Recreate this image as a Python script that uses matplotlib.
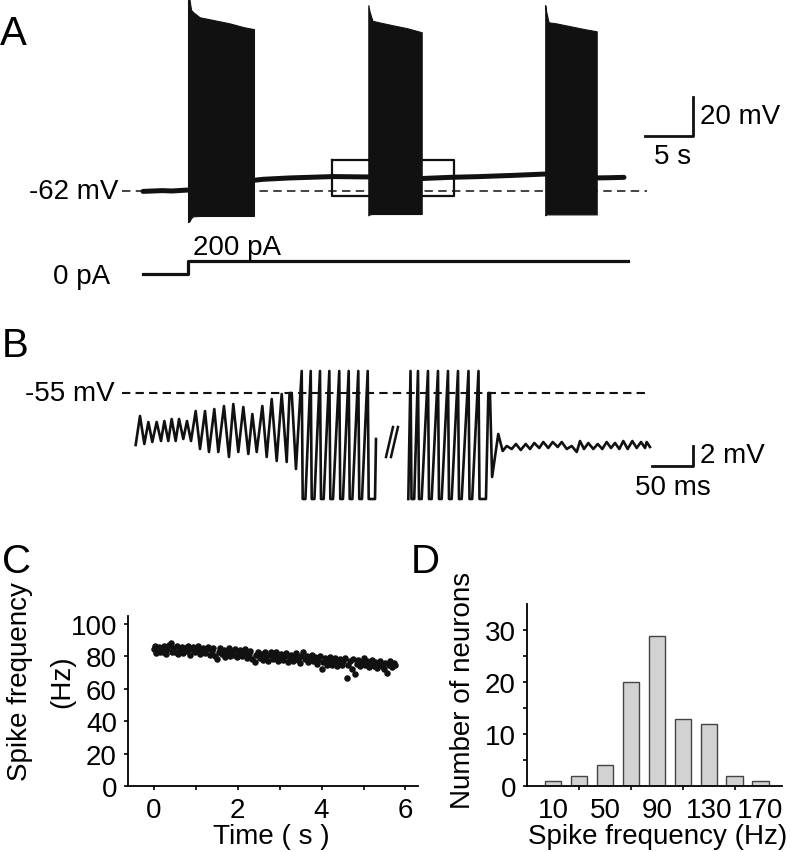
import matplotlib.pyplot as plt

plt.rcParams['font.family'] = ['Liberation Sans', 'DejaVu Sans']
plt.rcParams['font.size'] = 20

W, H = 790, 853
INK = '#111111'

# ---------------- panel A : whole-cell recording (s, mV) ----------------
burst1_t = [4.69, 4.85, 5.0, 5.2, 5.9, 7.5, 9.0, 10.5, 11.56]
burst1_top = [36.5, 36.0, 31.0, 29.8, 27.1, 25.5, 24.0, 22.0, 21.0]
burst1_bot = [-78.0, -77.5, -76.0, -75.0, -74.8, -74.8, -74.8, -74.8, -74.8]

burst2_t = [23.47, 23.6, 23.9, 24.5, 26.0, 27.5, 29.03]
burst2_top = [33.3, 30.0, 25.3, 24.6, 23.0, 21.5, 19.4]
burst2_bot = [-74.5, -74.0, -73.8, -73.8, -73.8, -73.8, -73.8]

burst3_t = [41.9, 42.0, 42.25, 43.0, 44.5, 46.0, 47.26]
burst3_top = [33.3, 30.0, 24.5, 24.0, 22.5, 21.0, 19.9]
burst3_bot = [-74.5, -74.0, -74.0, -74.0, -74.0, -74.0, -74.0]

rest0_t = [0.0, 1.0, 2.0, 3.0, 4.0, 4.69]
rest0_v = [-62.2, -62.0, -61.8, -62.0, -61.7, -61.5]
rest1_t = [11.56, 12.5, 15.3, 19.8, 23.47]
rest1_v = [-56.5, -56.0, -55.3, -54.6, -54.8]
rest2_t = [29.03, 32.0, 35.1, 38.5, 41.9]
rest2_v = [-55.6, -55.0, -54.6, -54.0, -53.3]
rest3_t = [47.26, 48.5, 50.1]
rest3_v = [-55.3, -55.2, -55.0]

current_t = [0.0, 4.69, 4.69, 50.5]
current_pa = [0, 0, 200, 200]

# ---------------- panel B : expanded trace (ms, mV) ----------------
pre_t = [0.8, 6.1, 11.4, 16.3, 21.1, 26.4, 31.7, 35.8, 40.6, 44.7, 49.6, 53.7,
         58.9, 63.4, 68.3, 74.0, 79.3, 85.4, 90.2, 96.7, 101.6, 108.5, 114.6,
         119.9, 126.0, 132.1, 138.2, 143.1, 148.4, 155.3, 160.6, 166.7, 172.8,
         178.9, 185.0, 188.5, 191.1, 196.3]
pre_v = [-60.2, -57.3, -60.1, -57.9, -59.9, -57.9, -59.8, -57.8, -59.8, -57.6,
         -59.8, -57.6, -59.6, -57.8, -59.8, -56.8, -60.6, -56.8, -60.9, -56.6,
         -60.9, -56.3, -61.4, -56.1, -60.9, -56.4, -61.1, -57.1, -60.9, -56.3,
         -61.4, -55.6, -61.8, -55.1, -61.9, -55.0, -55.0, -62.6]

spikes1_t = [203.3, 214.3, 225.6, 237.0, 249.1, 260.6, 272.3, 283.8]
spikes2_t = [336.0, 345.1, 357.3, 369.5, 381.7, 393.9, 406.7, 418.9]
spike_top, spike_bot = -52.8, -65.6

post_t = [428.0, 430.9, 432.9, 435.5, 443.0, 448.4, 453.3, 459.4, 464.6, 470.4,
          476.5, 481.7, 486.9, 493.0, 497.9, 504.0, 509.4, 515.5, 520.4, 526.5,
          532.6, 538.7, 542.7, 547.6, 552.8, 558.9, 564.3, 569.9, 575.2, 580.5,
          585.4, 590.6, 595.5, 600.8, 606.5, 611.8, 617.1, 622.0, 624.0, 628.0]
post_v = [-65.6, -55.0, -55.0, -63.4, -59.1, -60.8, -60.3, -60.6, -60.1, -60.7,
          -60.1, -60.6, -60.0, -60.5, -59.9, -60.5, -59.9, -60.4, -59.9, -60.6,
          -60.3, -60.9, -59.8, -60.6, -60.0, -60.6, -60.1, -60.6, -59.9, -60.5,
          -60.0, -60.6, -59.8, -60.6, -59.8, -60.5, -59.9, -60.5, -59.9, -60.4]

# ---------------- panel C : instantaneous spike frequency ----------------
freq_t = [0.00, 0.03, 0.05, 0.08, 0.12, 0.15, 0.18, 0.22, 0.25, 0.28, 0.32, 0.36,
          0.40, 0.42, 0.46, 0.50, 0.54, 0.58, 0.62, 0.66, 0.70, 0.74, 0.78, 0.82,
          0.86, 0.90, 0.94, 0.98, 1.02, 1.06, 1.10, 1.14, 1.18, 1.22, 1.26, 1.30,
          1.34, 1.38, 1.42, 1.46, 1.50, 1.54, 1.58, 1.62, 1.66, 1.70, 1.74, 1.78,
          1.82, 1.86, 1.90, 1.94, 1.98, 2.02, 2.06, 2.10, 2.14, 2.18, 2.22, 2.26,
          2.30, 2.34, 2.40, 2.44, 2.48, 2.52, 2.56, 2.60, 2.64, 2.68, 2.72, 2.76,
          2.80, 2.84, 2.88, 2.92, 2.96, 3.00, 3.04, 3.08, 3.12, 3.16, 3.20, 3.24,
          3.28, 3.32, 3.36, 3.40, 3.44, 3.48, 3.52, 3.56, 3.60, 3.64, 3.68, 3.72,
          3.76, 3.80, 3.84, 3.88, 3.92, 3.96, 4.00, 4.04, 4.08, 4.12, 4.16, 4.20,
          4.24, 4.28, 4.32, 4.36, 4.40, 4.44, 4.48, 4.52, 4.56, 4.61, 4.64, 4.68,
          4.72, 4.76, 4.80, 4.84, 4.88, 4.92, 4.96, 5.00, 5.04, 5.08, 5.12, 5.16,
          5.20, 5.24, 5.28, 5.32, 5.36, 5.40, 5.44, 5.48, 5.52, 5.56, 5.60, 5.64,
          5.68, 5.72, 5.76]
freq_hz = [84.5, 86.5, 82.0, 84.0, 86.0, 82.5, 85.0, 83.0, 86.5, 81.5, 84.5, 87.0,
           88.5, 82.5, 85.5, 83.0, 86.5, 81.5, 84.0, 86.0, 82.0, 85.0, 83.5, 86.5,
           81.0, 84.5, 86.0, 82.5, 84.0, 86.5, 81.5, 83.5, 85.5, 82.0, 84.5, 86.0,
           81.0, 83.5, 85.0, 80.5, 78.5, 83.0, 85.5, 81.5, 84.0, 79.5, 82.5, 85.0,
           80.5, 83.5, 81.0, 84.5, 79.5, 82.5, 84.0, 80.0, 82.0, 84.5, 79.0, 81.5,
           83.5, 78.5, 76.5, 81.0, 83.0, 79.0, 81.5, 78.0, 82.5, 80.0, 77.5, 81.0,
           83.0, 78.5, 80.5, 82.5, 77.0, 79.5, 81.5, 78.0, 80.0, 82.0, 76.5, 79.0,
           81.0, 77.5, 80.0, 82.0, 78.0, 76.0, 80.5, 83.0, 78.5, 80.5, 76.5, 79.0,
           81.0, 77.0, 79.5, 75.5, 78.0, 80.0, 72.0, 76.5, 79.0, 74.5, 77.5, 79.5,
           75.0, 77.0, 79.0, 74.0, 76.5, 78.5, 75.0, 77.5, 79.0, 67.0, 74.5, 77.0,
           72.0, 78.5, 69.0, 75.5, 78.0, 74.0, 76.5, 79.0, 74.5, 77.0, 73.5, 76.0,
           78.0, 74.0, 76.5, 73.0, 75.5, 77.5, 74.0, 72.5, 76.0, 70.0, 74.5, 77.0,
           73.5, 76.0, 74.5]

# ---------------- panel D : distribution of spike frequency ----------------
bin_centers = [10, 30, 50, 70, 90, 110, 130, 150, 170]
neuron_counts = [1, 2, 4, 20, 29, 13, 12, 2, 1]


def px_axes(fig, x0, y0, x1, y1):
    return fig.add_axes([x0 / W, 1 - y1 / H, (x1 - x0) / W, (y1 - y0) / H])


def spike_train(tops, top, bot):
    ts, vs = [], []
    for t in tops:
        ts += [t, t + 1.2, t + 4.5]
        vs += [top, bot, bot]
    return ts, vs


fig = plt.figure(figsize=(W / 100, H / 100), dpi=100)

# ---- A ----
axA = px_axes(fig, 100, 0, 760, 240)
axA.set_xlim((100 - 143) / 9.6, (760 - 143) / 9.6)
axA.set_ylim(-62 - 48 / 1.95, -62 + 192 / 1.95)
axA.axis('off')
axA.plot([-2.19, 52.5], [-62, -62], color=INK, lw=1.1, ls=(0, (5.5, 3.5)))
for bt, btop, bbot in [(burst1_t, burst1_top, burst1_bot),
                       (burst2_t, burst2_top, burst2_bot),
                       (burst3_t, burst3_top, burst3_bot)]:
    axA.fill_between(bt, bbot, btop, color=INK, lw=0.8, edgecolor=INK)
for rt, rv in [(rest0_t, rest0_v), (rest1_t, rest1_v), (rest2_t, rest2_v), (rest3_t, rest3_v)]:
    axA.plot(rt, rv, color=INK, lw=3.6, solid_capstyle='round')
# zoom box
axA.plot([19.7, 32.4, 32.4, 19.7, 19.7], [-46.1, -46.1, -64.4, -64.4, -46.1],
         color=INK, lw=1.6)
# scale bar 5 s / 20 mV
axA.plot([52.3, 57.3, 57.3], [-33.8, -33.8, -13.8], color=INK, lw=2.0)
axA.text(58.0, -23.5, '20 mV', ha='left', va='center')
axA.text(55.2, -44.1, '5 s', ha='center', va='center')
axA.text(-2.6, -62, '-62 mV', ha='right', va='center')

axI = px_axes(fig, 100, 245, 760, 292)
axI.set_xlim((100 - 143) / 9.6, (760 - 143) / 9.6)
axI.set_ylim(-17 / 0.065, 30 / 0.065)
axI.axis('off')
axI.plot(current_t, current_pa, color=INK, lw=2.3)
axI.text(5.2, 415, '200 pA', ha='left', va='center')
axI.text(-3.44, -31, '0 pA', ha='right', va='center')

# ---- B ----
axB = px_axes(fig, 100, 355, 760, 510)
axB.set_xlim((100 - 135) / 0.82, (760 - 135) / 0.82)
axB.set_ylim(-55 - 116 / 10, -55 + 39 / 10)
axB.axis('off')
axB.plot([-15.9, 624.4], [-55, -55], color=INK, lw=1.5, ls=(0, (4, 2.5)))
s1_t, s1_v = spike_train(spikes1_t, spike_top, spike_bot)
seg1_t = pre_t + s1_t + [292.7, 293.9]
seg1_v = pre_v + s1_v + [spike_bot, -59.6]
axB.plot(seg1_t, seg1_v, color=INK, lw=1.9, solid_joinstyle='round')
s2_t, s2_v = spike_train(spikes2_t, spike_top, spike_bot)
seg2_t = [333.3] + s2_t + post_t
seg2_v = [spike_bot] + s2_v + post_v
axB.plot(seg2_t, seg2_v, color=INK, lw=1.9, solid_joinstyle='round')
# break mark
axB.plot([306.1, 314.6], [-61.4, -58.4], color=INK, lw=1.8)
axB.plot([312.2, 320.7], [-61.4, -58.4], color=INK, lw=1.8)
# scale bar 50 ms / 2 mV
axB.plot([630.5, 680.5, 680.5], [-62.3, -62.3, -60.3], color=INK, lw=2.0)
axB.text(689, -61.2, '2 mV', ha='left', va='center')
axB.text(656, -64.4, '50 ms', ha='center', va='center')
axB.text(-24.4, -55, '-55 mV', ha='right', va='center')

# ---- C ----
axC = px_axes(fig, 128, 617, 418, 787)
axC.scatter(freq_t, freq_hz, s=22, color=INK, linewidths=0)
axC.set_xlim(-0.62, 6.3)
axC.set_ylim(0, 105)
axC.set_xticks([0, 2, 4, 6])
axC.set_xticks([1, 3, 5], minor=True)
axC.set_yticks([0, 20, 40, 60, 80, 100])
axC.tick_params(which='both', length=3, width=1.2, pad=5, labelsize=20)
for sp in ['top', 'right']:
    axC.spines[sp].set_visible(False)
for sp in ['left', 'bottom']:
    axC.spines[sp].set_linewidth(1.3)
fig.text(20 / W, 1 - 682 / H, 'Spike frequency', rotation=90, ha='center', va='center')
fig.text(62 / W, 1 - 682 / H, '(Hz)', rotation=90, ha='center', va='center')
fig.text(271 / W, 1 - 837 / H, 'Time ( s )', ha='center', va='center')

# ---- D ----
axD = px_axes(fig, 527, 605, 782, 787)
axD.bar(bin_centers, neuron_counts, width=12.6, color='#d2d2d2',
        edgecolor='#444444', linewidth=1.0)
axD.set_xlim(-10.3, 186.6)
axD.set_ylim(0, 35.1)
axD.set_xticks([10, 50, 90, 130, 170])
axD.set_xticks([30, 70, 110, 150], minor=True)
axD.set_yticks([0, 10, 20, 30])
axD.set_yticks([5, 15, 25], minor=True)
axD.tick_params(axis='x', which='major', length=0, pad=8, labelsize=20)
axD.tick_params(axis='x', which='minor', length=3, width=1.2)
axD.tick_params(axis='y', which='both', length=3, width=1.2, pad=5, labelsize=20)
for sp in ['top', 'right']:
    axD.spines[sp].set_visible(False)
for sp in ['left', 'bottom']:
    axD.spines[sp].set_linewidth(1.3)
fig.text(463 / W, 1 - 690 / H, 'Number of neurons', rotation=90, ha='center', va='center')
fig.text(658 / W, 1 - 837 / H, 'Spike frequency (Hz)', ha='center', va='center')

# panel letters
for letter, x, y in [('A', 0, 34), ('B', 2, 346), ('C', 2, 562), ('D', 411, 562)]:
    fig.text(x / W, 1 - y / H, letter, fontsize=29, ha='left', va='center')

fig.savefig('out.png', dpi=100)
